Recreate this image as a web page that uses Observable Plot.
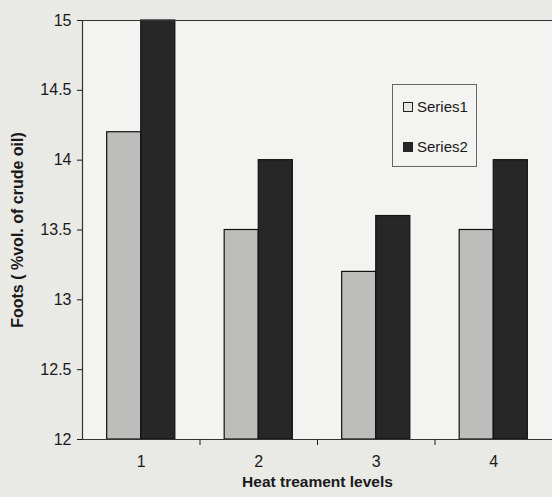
<!DOCTYPE html>
<html><head><meta charset="utf-8">
<script src="https://cdn.jsdelivr.net/npm/d3@7"></script>
<script src="https://cdn.jsdelivr.net/npm/@observablehq/plot@0.6"></script>
<style>
body{margin:0;background:#e9e9e6;font-family:"Liberation Sans",Arial,sans-serif;overflow:hidden}
#wrap{position:relative;width:552px;height:497px}
#legend{position:absolute;left:392px;top:84px;width:85px;height:83px;border:1px solid #666;background:#f3f3f1;box-sizing:border-box;font-size:15px;color:#1a1a1a}
#legend .item{position:absolute;left:10px;display:flex;align-items:center;gap:4px;line-height:16px}
#legend .sw{width:10px;height:10px;border:1px solid #222;box-sizing:border-box}
g[aria-label="y-axis label"] text{font-weight:bold;font-size:16px}
g[aria-label="x-axis label"] text{font-weight:bold;font-size:15.5px}
</style></head><body><div id="wrap"></div>
<script>
const levels = [1, 2, 3, 4];
const series1 = [14.2, 13.5, 13.2, 13.5];
const series2 = [15, 14, 13.6, 14];
const seriesNames = ["Series1", "Series2"];
const yTicks = [12, 12.5, 13, 13.5, 14, 14.5, 15];
const boundaries = [1.5, 2.5, 3.5];
const colors = ["#bdbdbb", "#272727"];
const barW = 0.29;

const rows = levels.flatMap((l, i) => [
  {level: l, series: seriesNames[0], value: series1[i], x1: l - barW, x2: l},
  {level: l, series: seriesNames[1], value: series2[i], x1: l, x2: l + barW}
]);

const chart = Plot.plot({
  width: 552, height: 497,
  marginLeft: 82, marginRight: 0, marginTop: 20, marginBottom: 58,
  style: {background: "transparent", fontFamily: "'Liberation Sans', Arial, sans-serif", fontSize: "16px", color: "#1a1a1a"},
  x: {domain: [0.5, 4.5]},
  y: {domain: [yTicks[0], yTicks[yTicks.length - 1]]},
  color: {domain: seriesNames, range: colors},
  marks: [
    Plot.frame({fill: "#f3f3f1", stroke: null}),
    Plot.rect(rows, {x1: "x1", x2: "x2", y1: yTicks[0], y2: "value", fill: "series", stroke: "#111", strokeWidth: 1.2}),
    Plot.ruleY([yTicks[0], yTicks[yTicks.length - 1]], {stroke: "#333", strokeWidth: 1.2}),
    Plot.ruleX([0.5], {stroke: "#333", strokeWidth: 1.2}),
    Plot.axisY({ticks: yTicks, tickSize: 5, tickPadding: 6, fontSize: 16, tickFormat: d => String(d), label: "Foots ( %vol. of crude oil)", labelAnchor: "center", labelArrow: false, labelOffset: 71}),
    Plot.axisX({ticks: levels, tickSize: 0, tickPadding: 16, fontSize: 16, tickFormat: d => String(d), label: "Heat treament levels", labelAnchor: "center", labelArrow: false, labelOffset: 47}),
    Plot.axisX({ticks: boundaries, tickSize: 6, tickFormat: () => "", label: null})
  ]
});
const wrap = document.getElementById("wrap");
wrap.appendChild(chart);
const legend = document.createElement("div");
legend.id = "legend";
seriesNames.forEach((name, i) => {
  const it = document.createElement("div");
  it.className = "item";
  it.style.top = (i === 0 ? 14 : 54) + "px";
  const sw = document.createElement("span");
  sw.className = "sw";
  sw.style.background = i === 0 ? "#e4e4e2" : colors[1];
  it.appendChild(sw);
  const t = document.createElement("span");
  t.textContent = name;
  it.appendChild(t);
  legend.appendChild(it);
});
wrap.appendChild(legend);
</script>
</body></html>
